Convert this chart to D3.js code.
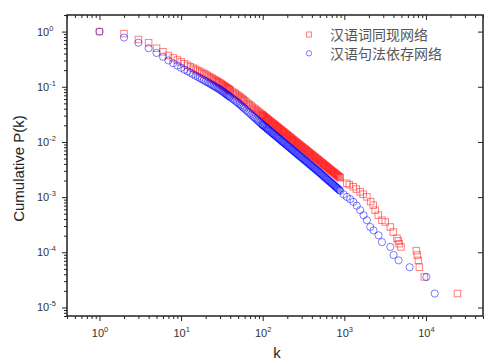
<!DOCTYPE html>
<html><head><meta charset="utf-8">
<script src="https://cdn.jsdelivr.net/npm/d3@7"></script>
<style>body{margin:0;background:#fff}</style>
</head><body>
<svg id="c" width="484" height="360"></svg>
<script>
// ---- data ----
const xDomain = [0.4, 5e4];
const yDomain = [7e-6, 2];
const xMajor = [1, 10, 100, 1000, 10000];
const xExp = ["0", "1", "2", "3", "4"];
const yMajor = [1, 0.1, 0.01, 0.001, 0.0001, 0.00001];
const yExp = ["0", "-1", "-2", "-3", "-4", "-5"];
const seriesNames = ["汉语词同现网络", "汉语句法依存网络"];
const xTitle = "k";
const yTitle = "Cumulative P(k)";

const redK = [1,2,3,4,5,6,7,8,9,10,11,12,13,14,15,16,17,18,19,20,21,22,23,24,25,26,27,28,29,30,
31,32,33,34,35,36,37,38,39,40,42,44,46,48,50,52,54,56,58,60,63,66,69,72,75,78,81,84,87,90,93,96,99,
100,102,105,107,110,112,115,117,120,123,126,129,132,135,138,141,145,148,151,155,
158,162,166,170,174,178,182,186,191,195,200,204,209,214,219,224,229,234,240,245,
251,257,263,269,275,282,288,295,302,309,316,324,331,339,347,355,363,372,380,389,
398,407,417,427,437,447,457,468,479,490,501,513,525,537,550,562,575,589,603,617,
631,646,661,676,692,708,724,741,759,776,794,813,832,851,871,891,
1073,1150,1283,1400,1564,1700,1889,2100,2259,2389,2600,2889,3172,3654,3981,4419,4583,4700,4943,7620,7840,8070,8300,9550,24300];
const redP = [1,0.92,0.72,0.63,0.50,0.43,0.37,0.334,0.305,0.282,0.262,0.245,0.231,0.218,0.207,0.198,0.189,0.181,0.173,0.167,0.160,0.153,0.147,0.142,0.137,0.132,0.128,0.124,0.120,0.117,
0.1127,0.109,0.106,0.1028,0.0998,0.0969,0.0942,0.0917,0.0893,0.0869,0.0828,0.0789,0.0755,0.0723,0.0692,0.0661,0.0631,0.0604,0.0579,0.0557,
0.0526,0.0498,0.0472,0.0449,0.0427,0.0407,0.0390,0.0373,0.0358,0.0344,0.0330,0.0318,0.0307,
0.0303,0.0295,0.0287,0.0279,0.0272,0.0265,0.0257,0.0250,0.0244,0.0237,
0.0231,0.0224,0.0218,0.0212,0.0207,0.0201,0.0196,0.0190,0.0185,0.0180,
0.0175,0.0171,0.0166,0.0162,0.0157,0.0153,0.0149,0.0145,0.0141,0.0137,
0.0133,0.0130,0.0126,0.0123,0.0120,0.0116,0.0113,0.0110,0.0107,0.0104,
0.0101,0.00987,0.00960,0.00934,0.00909,0.00884,0.00860,0.00837,0.00814,0.00792,
0.00771,0.00750,0.00730,0.00710,0.00691,0.00672,0.00654,0.00636,0.00619,0.00602,
0.00586,0.00570,0.00555,0.00540,0.00525,0.00511,0.00497,0.00484,0.00471,0.00458,
0.00446,0.00434,0.00422,0.00411,0.00399,0.00389,0.00378,0.00368,0.00358,0.00348,
0.00339,0.00330,0.00321,0.00312,0.00304,0.00295,0.00288,0.00280,0.00272,0.00265,
0.00258,0.00251,0.00244,0.00237,0.00231,0.00225,
0.00178,0.00168,0.00154,0.00140,0.00125,0.00113,0.00101,0.00083,0.000715,0.00058,0.00047,0.000381,0.000355,0.000288,0.000233,0.000179,0.000161,0.000143,0.000125,0.000107,0.000089,0.0000714,0.0000536,0.0000357,0.0000179];

const blueK = [1,2,3,4,5,6,7,8,9,10,11,12,13,14,15,16,17,18,19,20,21,22,23,24,25,26,27,28,29,30,
31,32,33,34,35,36,37,38,39,40,42,44,46,48,50,52,54,56,58,60,63,66,69,72,75,78,81,84,87,90,93,96,99,
100,102,105,107,110,112,115,117,120,123,126,129,132,135,138,141,145,148,151,155,
158,162,166,170,174,178,182,186,191,195,200,204,209,214,219,224,229,234,240,245,
251,257,263,269,275,282,288,295,302,309,316,324,331,339,347,355,363,372,380,389,
398,407,417,427,437,447,457,468,479,490,501,513,525,537,550,562,575,589,603,617,
631,646,661,676,692,708,724,741,759,776,794,813,832,851,871,891,
980,1073,1180,1291,1420,1564,1718,1889,2075,2277,2624,2889,3654,4010,4620,6310,10100,12800];
const blueP = [1,0.78,0.63,0.50,0.41,0.35,0.30,0.267,0.242,0.221,0.204,0.191,0.179,0.168,0.159,0.151,0.144,0.137,0.131,0.126,0.121,0.116,0.112,0.108,0.104,0.1005,0.0973,0.0942,0.0914,0.0889,
0.0857,0.0828,0.0802,0.0776,0.0752,0.0729,0.0708,0.0687,0.0668,0.0650,0.0617,0.0586,0.0558,0.0533,0.0509,0.0483,0.0460,0.0439,0.0419,0.0400,
0.0375,0.0352,0.0333,0.0314,0.0297,0.0282,0.0269,0.0256,0.0244,0.0234,0.0224,0.0214,0.0206,
0.0203,0.0198,0.0192,0.0187,0.0181,0.0176,0.0171,0.0166,0.0162,0.0157,
0.0153,0.0148,0.0144,0.0140,0.0136,0.0132,0.0129,0.0125,0.0122,0.0118,
0.0115,0.0112,0.0108,0.0105,0.0102,0.00995,0.00967,0.00940,0.00914,0.00888,
0.00863,0.00839,0.00815,0.00792,0.00770,0.00748,0.00727,0.00707,0.00687,0.00667,
0.00649,0.00630,0.00613,0.00595,0.00579,0.00562,0.00547,0.00531,0.00516,0.00502,
0.00488,0.00474,0.00460,0.00448,0.00435,0.00423,0.00411,0.00399,0.00388,0.00377,
0.00366,0.00356,0.00346,0.00336,0.00327,0.00318,0.00309,0.00300,0.00292,0.00283,
0.00275,0.00267,0.00259,0.00252,0.00244,0.00237,0.00230,0.00223,0.00217,0.00210,
0.00204,0.00198,0.00192,0.00187,0.00181,0.00176,0.00171,0.00166,0.00161,0.00156,
0.00151,0.00147,0.00143,0.00138,0.00134,0.00130,
0.00112,0.00101,0.00092,0.00082,0.00070,0.00058,0.00047,0.000381,0.000288,0.00025,0.000203,0.000153,0.000125,0.0000893,0.0000714,0.0000536,0.0000357,0.0000179];

// ---- layout ----
const L = 67, R = 483, T = 15, B = 316;
const svg = d3.select("#c");
const x = d3.scaleLog().domain(xDomain).range([L, R]);
const y = d3.scaleLog().domain(yDomain).range([B, T]);

function minorTicks(dom) {
  const out = [];
  for (let e = -7; e <= 6; e++) for (let m = 2; m <= 9; m++) {
    const v = m * Math.pow(10, e);
    if (v >= dom[0] * 0.999 && v <= dom[1] * 1.001) out.push(v);
  }
  return out;
}
const xMinor = minorTicks(xDomain), yMinor = minorTicks(yDomain);
const axisColor = "#222";

function drawAxis(gen, tr) {
  const g = svg.append("g").attr("transform", tr).call(gen);
  g.select(".domain").remove();
  g.selectAll("line").attr("stroke", axisColor).attr("stroke-width", 1);
  g.selectAll("text").remove();
  return g;
}
// bottom (outward)
drawAxis(d3.axisBottom(x).tickValues(xMajor).tickSize(5).tickFormat(""), `translate(0,${B})`);
drawAxis(d3.axisBottom(x).tickValues(xMinor).tickSize(3).tickFormat(""), `translate(0,${B})`);
// top (inward)
drawAxis(d3.axisBottom(x).tickValues(xMajor).tickSize(5).tickFormat(""), `translate(0,${T})`);
drawAxis(d3.axisBottom(x).tickValues(xMinor).tickSize(3).tickFormat(""), `translate(0,${T})`);
// left (outward)
drawAxis(d3.axisLeft(y).tickValues(yMajor).tickSize(5).tickFormat(""), `translate(${L},0)`);
drawAxis(d3.axisLeft(y).tickValues(yMinor).tickSize(3).tickFormat(""), `translate(${L},0)`);
// right (inward)
drawAxis(d3.axisLeft(y).tickValues(yMajor).tickSize(5).tickFormat(""), `translate(${R},0)`);

// frame
svg.append("rect").attr("x", L).attr("y", T).attr("width", R - L).attr("height", B - T)
  .attr("fill", "none").attr("stroke", axisColor).attr("stroke-width", 1.5);

const tickFont = "'Liberation Sans', Arial, sans-serif";
// x tick labels
xMajor.forEach((v, i) => {
  const t = svg.append("text").attr("x", x(v) + 0.5).attr("y", 337)
    .attr("text-anchor", "middle").attr("font-family", tickFont).attr("font-size", 11).attr("fill", "#333");
  t.append("tspan").text("10");
  t.append("tspan").attr("dy", -5).attr("font-size", 7.5).text(xExp[i]);
});
// y tick labels
yMajor.forEach((v, i) => {
  const t = svg.append("text").attr("x", 37).attr("y", y(v) + 4)
    .attr("text-anchor", "start").attr("font-family", tickFont).attr("font-size", 11).attr("fill", "#333");
  t.append("tspan").text("10");
  t.append("tspan").attr("dy", -5).attr("font-size", 7.5).text(yExp[i]);
});

// axis titles
svg.append("text").attr("x", (L + R) / 2 + 2).attr("y", 358).attr("text-anchor", "middle")
  .attr("font-family", tickFont).attr("font-size", 15).attr("fill", "#222").text(xTitle);
svg.append("text").attr("transform", `translate(24,${(T + B) / 2 + 3}) rotate(-90)`).attr("text-anchor", "middle")
  .attr("font-family", tickFont).attr("font-size", 15).attr("fill", "#222").text(yTitle);

// data
const redData = redK.map((k, i) => [k, redP[i]]);
const blueData = blueK.map((k, i) => [k, blueP[i]]);
const sq = 6.5, rc = 3.6;
svg.append("g").selectAll("rect").data(redData).join("rect")
  .attr("x", d => x(d[0]) - sq / 2).attr("y", d => y(d[1]) - sq / 2)
  .attr("width", sq).attr("height", sq)
  .attr("fill", "none").attr("stroke", "#ff0000").attr("stroke-opacity", 0.5).attr("stroke-width", 1);
svg.append("g").selectAll("circle").data(blueData).join("circle")
  .attr("cx", d => x(d[0])).attr("cy", d => y(d[1])).attr("r", rc)
  .attr("fill", "none").attr("stroke", "#0000ff").attr("stroke-opacity", 0.5).attr("stroke-width", 1);

// legend
const lg = svg.append("g");
lg.append("rect").attr("x", 306.5).attr("y", 32).attr("width", 5).attr("height", 5)
  .attr("fill", "none").attr("stroke", "#ff0000").attr("stroke-opacity", 0.5);
lg.append("circle").attr("cx", 309).attr("cy", 53.3).attr("r", 2.7)
  .attr("fill", "none").attr("stroke", "#0000ff").attr("stroke-opacity", 0.5);
[0, 1].forEach(i => {
  lg.append("text").attr("x", 330).attr("y", 40 + i * 18.5)
    .attr("font-family", "'Noto Sans CJK SC', sans-serif").attr("font-size", 14).attr("fill", "#555")
    .text(seriesNames[i]);
});
</script>
</body></html>
